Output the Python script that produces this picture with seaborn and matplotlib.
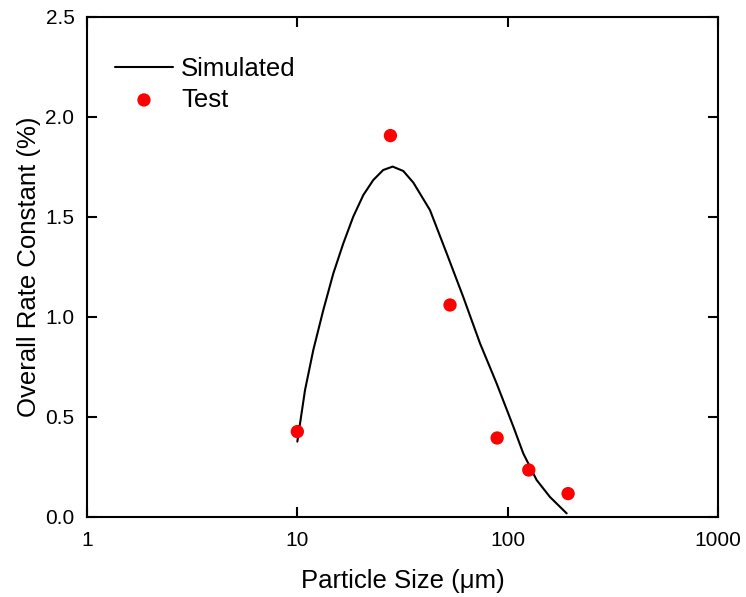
import numpy as np
import pandas as pd
import matplotlib
matplotlib.use("Agg")
import matplotlib.pyplot as plt
import seaborn as sns
from matplotlib.ticker import FixedLocator, FixedFormatter, NullLocator

# Simulated curve
sim_x = [10.0, 10.88, 11.91, 13.29, 14.83, 16.54, 18.45, 20.6, 22.97, 25.6, 28.4, 31.9, 35.6,
         42.7, 51.3, 61.5, 73.9, 88.6, 106.4, 118.6, 137.3, 158.9, 190.8]
sim_y = [0.377, 0.635, 0.835, 1.035, 1.218, 1.368, 1.502, 1.61, 1.685, 1.735, 1.752, 1.73, 1.672,
         1.535, 1.318, 1.10, 0.868, 0.668, 0.452, 0.318, 0.185, 0.10, 0.018]

# Test points
test_x = [10.0, 27.7, 53.2, 89.1, 126.0, 193.8]
test_y = [0.427, 1.907, 1.06, 0.395, 0.235, 0.117]

x_ticks = [1, 10, 100, 1000]
x_tick_labels = ["1", "10", "100", "1000"]
y_ticks = [0.0, 0.5, 1.0, 1.5, 2.0, 2.5]
y_tick_labels = ["0.0", "0.5", "1.0", "1.5", "2.0", "2.5"]

sns.set_style("ticks")
plt.rcParams['font.family'] = ['Liberation Sans', 'DejaVu Sans']
plt.rcParams['text.color'] = 'black'
plt.rcParams['axes.labelcolor'] = 'black'

fig = plt.figure(figsize=(7.46, 5.97), dpi=100)
ax = fig.add_axes([87/746, 1 - 517/597, (718-87)/746, (517-17)/597])

sim_df = pd.DataFrame({"x": sim_x, "y": sim_y})
test_df = pd.DataFrame({"x": test_x, "y": test_y})

sns.lineplot(data=sim_df, x="x", y="y", ax=ax, color="black", lw=1.5, label="Simulated", sort=False)
sns.scatterplot(data=test_df, x="x", y="y", ax=ax, color="red", s=92, edgecolor="none", label="Test", zorder=3)

ax.set_xscale("log")
ax.set_xlim(1, 1000)
ax.set_ylim(0, 2.5)
ax.xaxis.set_major_locator(FixedLocator(x_ticks))
ax.xaxis.set_major_formatter(FixedFormatter(x_tick_labels))
ax.xaxis.set_minor_locator(NullLocator())
ax.yaxis.set_major_locator(FixedLocator(y_ticks))
ax.yaxis.set_major_formatter(FixedFormatter(y_tick_labels))

ax.tick_params(which="both", direction="in", top=True, right=True, length=7, width=1.5,
               labelsize=15, colors="black")
ax.tick_params(axis="x", pad=10)
ax.tick_params(axis="y", pad=9)
for sp in ax.spines.values():
    sp.set_visible(True)
    sp.set_linewidth(1.5)
    sp.set_color("black")

ax.set_xlabel("Particle Size (μm)", fontsize=18.5, labelpad=14, color="black")
ax.set_ylabel("Overall Rate Constant (%)", fontsize=18.5, labelpad=3, color="black")

leg = ax.legend(loc="upper left", bbox_to_anchor=(0.028, 0.94), frameon=False, fontsize=18.5,
                handlelength=2.26, handletextpad=0.31, labelspacing=0.25, borderaxespad=0)

fig.savefig("out.png", dpi=100)
